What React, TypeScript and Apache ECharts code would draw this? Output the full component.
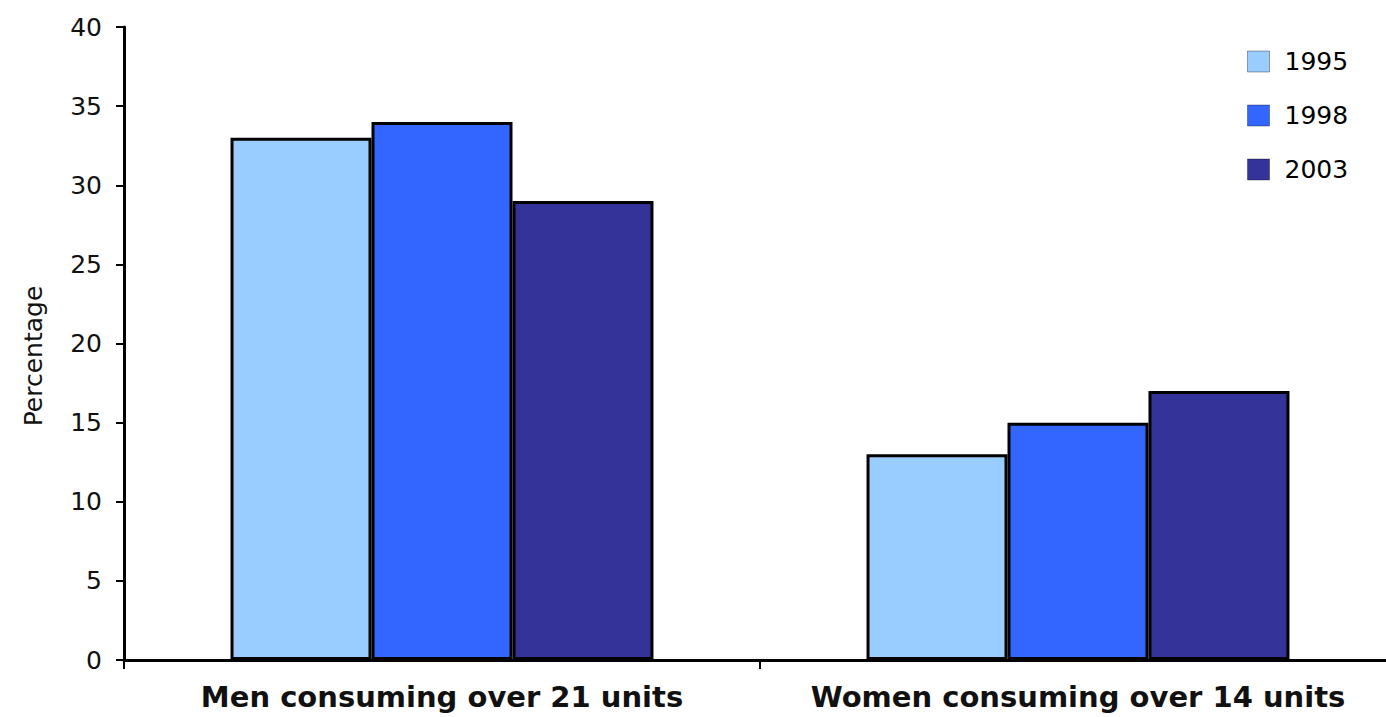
import React, { useEffect, useRef } from "react";
import * as echarts from "echarts";

const categories = ["Men consuming over 21 units", "Women consuming over 14 units"];
const seriesNames = ["1995", "1998", "2003"];
const values1995 = [33, 13];
const values1998 = [34, 15];
const values2003 = [29, 17];
const colors = ["#99CCFF", "#3366FF", "#333399"];
const yTicks = { min: 0, max: 40, interval: 5 };

export default function App() {
  const ref = useRef<HTMLDivElement>(null);
  useEffect(() => {
    if (!ref.current) return;
    const chart = echarts.init(ref.current, undefined, { renderer: "svg" });
    const font = "DejaVu Sans";
    const seriesData = [values1995, values1998, values2003];
    chart.setOption({
      animation: false,
      backgroundColor: "#ffffff",
      textStyle: { fontFamily: font },
      grid: {
        left: 124,
        top: 27,
        bottom: 57,
        right: -10,
        containLabel: false,
        outerBoundsMode: "none",
      },
      legend: {
        orient: "vertical",
        left: 1242,
        top: 44,
        itemWidth: 22,
        itemHeight: 21,
        itemGap: 29,
        icon: "rect",
        data: seriesNames,
        itemStyle: { borderWidth: 1, borderColor: "rgba(0,0,0,0.35)" },
        textStyle: { fontFamily: font, fontSize: 25, color: "#000", padding: [0, 0, 0, 10] },
      },
      xAxis: {
        type: "category",
        data: categories,
        axisLine: { show: true, lineStyle: { color: "#000", width: 3 } },
        axisTick: { show: true, length: 9, lineStyle: { color: "#000", width: 2 } },
        axisLabel: {
          interval: 0,
          hideOverlap: false,
          fontFamily: font,
          fontSize: 29,
          fontWeight: "bold",
          color: "#111",
          margin: 22,
        },
        splitLine: { show: false },
      },
      yAxis: {
        type: "value",
        min: yTicks.min,
        max: yTicks.max,
        interval: yTicks.interval,
        name: "Percentage",
        nameLocation: "middle",
        nameGap: 78,
        nameRotate: 90,
        nameTextStyle: { fontFamily: font, fontSize: 25, color: "#111", padding: [0, 0, 0, -25] },
        axisLine: { show: true, lineStyle: { color: "#000", width: 3 } },
        axisTick: { show: true, length: 8, lineStyle: { color: "#000", width: 2 } },
        axisLabel: { fontFamily: font, fontSize: 25, color: "#111", margin: 22 },
        splitLine: { show: false },
      },
      series: seriesNames.map((name, i) => ({
        name,
        type: "bar",
        data: seriesData[i],
        barGap: "0%",
        barCategoryGap: "33.5%",
        itemStyle: { color: colors[i], borderColor: "#000", borderWidth: 3 },
      })),
    });
    return () => chart.dispose();
  }, []);
  return (
    <div
      ref={ref}
      style={{ position: "absolute", left: 0, top: 0, width: 1386, height: 717 }}
    />
  );
}
